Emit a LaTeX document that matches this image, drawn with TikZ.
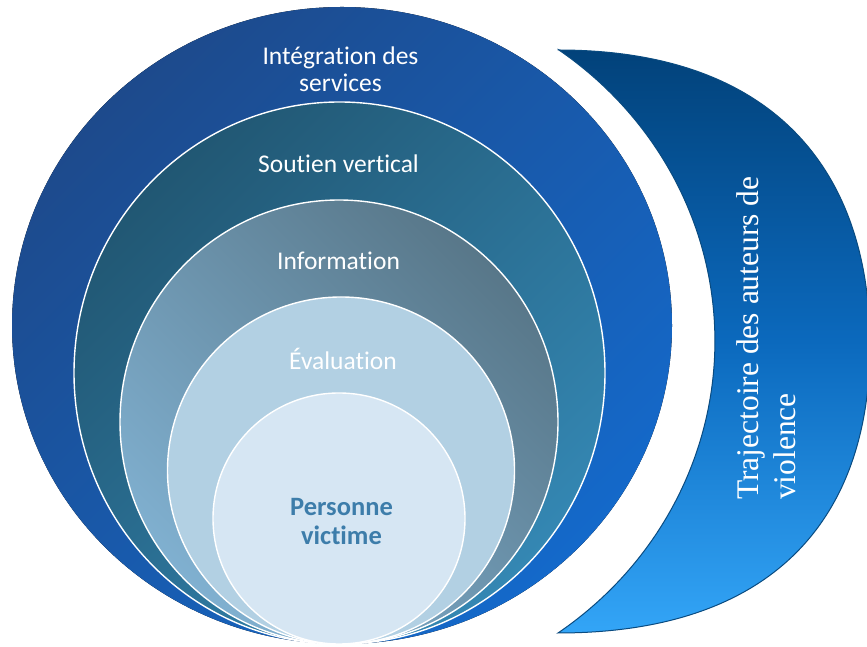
\documentclass[tikz,border=0pt]{standalone}
\usepackage{fontspec}
\setmainfont{Carlito}[Ligatures=NoCommon]
\newfontfamily\crescentfont{Liberation Serif}
\definecolor{ringAa}{HTML}{1D4A8C}
\definecolor{ringAb}{HTML}{1469CA}
\definecolor{ringBa}{HTML}{215773}
\definecolor{ringBb}{HTML}{3487B3}
\definecolor{ringCa}{HTML}{587789}
\definecolor{ringCb}{HTML}{80B0D0}
\definecolor{ringD}{HTML}{B2D0E3}
\definecolor{ringE}{HTML}{D6E6F3}
\definecolor{coreText}{HTML}{3D7DAA}
\definecolor{moonTop}{HTML}{02427A}
\definecolor{moonMid}{HTML}{0B69BD}
\definecolor{moonBot}{HTML}{33A5F7}
\definecolor{moonEdge}{HTML}{0A4B80}
\begin{document}
\begin{tikzpicture}[x=1pt,y=1pt,
  ringline/.style={draw=white, line width=1.4pt},
  lbl/.style={text=white, align=center, inner sep=0pt, font=\fontsize{25.5}{27}\selectfont},
  corelbl/.style={text=coreText, align=center, inner sep=0pt, font=\bfseries\fontsize{26.5}{29}\selectfont},
  moonlbl/.style={text=white, align=left, inner sep=0pt, rotate=90, font=\crescentfont\fontsize{31.5}{37}\selectfont}]
\useasboundingbox (0,0) rectangle (867,647);
\begin{scope}
\clip (0,0) rectangle (867,647);
% crescent
\draw[draw=moonEdge, line width=1pt, top color=moonTop, bottom color=moonBot, middle color=moonMid]
  (558,597) .. controls (778,597) and (870,472) .. (870,302)
  .. controls (870,132) and (777,14) .. (558,14)
  arc[start angle=-54.6, end angle=54.6, x radius=373, y radius=358] -- cycle;
% rings
\fill[top color=ringAa, bottom color=ringAb, shading angle=45] (342,321.5) ellipse [x radius=330, y radius=318.5];
\shade[top color=ringBa, bottom color=ringBb, shading angle=45] (339.5,274) ellipse [x radius=265.5, y radius=271];
\draw[ringline] (339.5,274) ellipse [x radius=265.5, y radius=271];
\shade[top color=ringCa, bottom color=ringCb, shading angle=-45] (339,225) ellipse [x radius=219, y radius=222];
\draw[ringline] (339,225) ellipse [x radius=219, y radius=222];
\draw[ringline, fill=ringD] (341,176.5) ellipse [x radius=173.5, y radius=173.5];
\draw[ringline, fill=ringE] (339,128.5) ellipse [x radius=126, y radius=125.5];
\end{scope}
\node[lbl] (integ) at (340.5,577.3) {Intégration des\\services};
\node[lbl] (soutien) at (338.5,483) {Soutien vertical};
\node[lbl] (info) at (338.5,386.5) {Information};
\node[lbl] (eval) at (343,288) {Évaluation};
\node[corelbl] (core) at (341.5,125.5) {Personne\\victime};
\node[moonlbl, anchor=west] (traj) at (766,147) {Trajectoire des auteurs de\\violence};
\end{tikzpicture}
\end{document}
